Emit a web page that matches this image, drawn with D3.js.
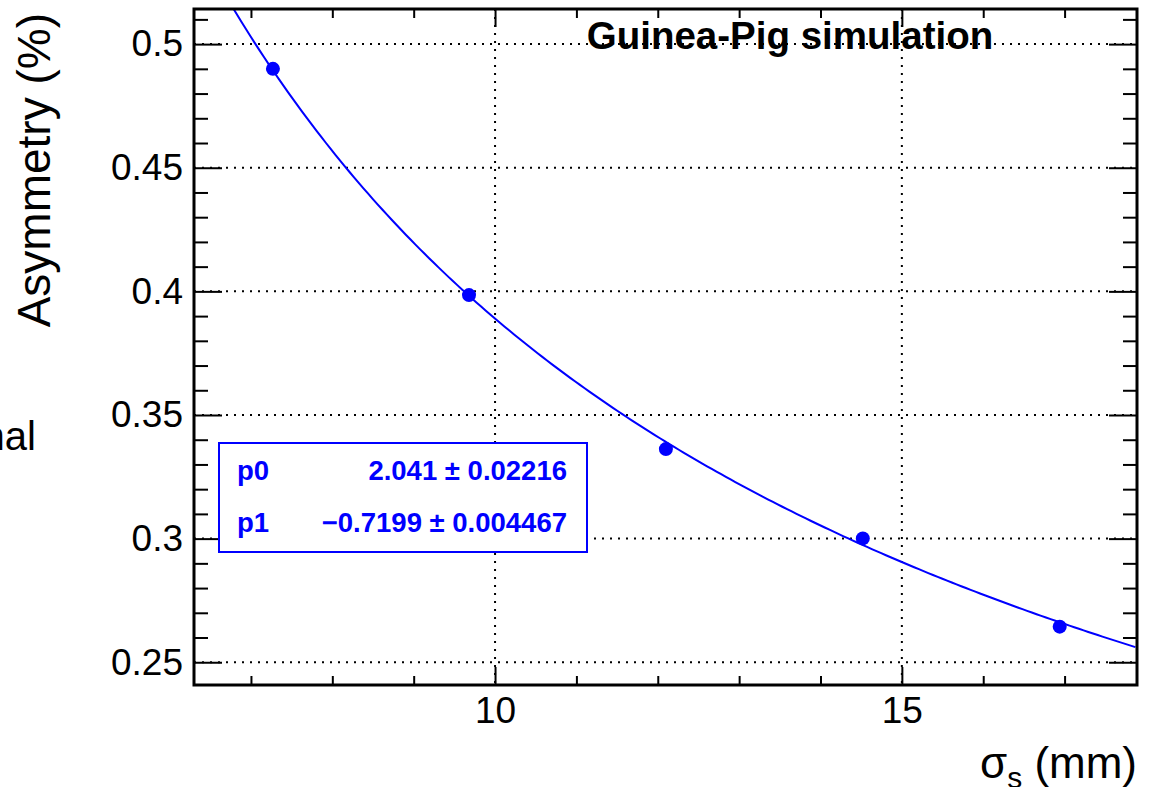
<!DOCTYPE html>
<head>
  <meta charset="utf-8" />
  <script src="https://cdn.jsdelivr.net/npm/d3@7"></script>
  <style>
    body { margin: 0; background: #fff; }
    svg text { font-family: "Liberation Sans", Arial, Helvetica, sans-serif; }
    .axis path.domain { display: none; }
    .axis line { stroke: #000; stroke-width: 2; }
  </style>
</head>
<body>
  <svg class="chart" width="1151" height="787"></svg>
  <script>
    // measured points (sigma_s in mm, asymmetry in %)
    const sigmaVals = [7.27, 9.68, 12.1, 14.52, 16.94];
    const asymVals = [0.49, 0.3985, 0.3362, 0.3001, 0.2644];

    // fit result p0 * x^p1 shown in the stats box
    const p0 = 2.041;
    const p1 = -0.7199;
    const parNames = ["p0", "p1"];
    const parValues = ["2.041", "\u22120.7199"];
    const parErrors = ["0.02216", "0.004467"];

    const xMajor = [10, 15];
    const xMinor = [7, 8, 9, 11, 12, 13, 14, 16, 17];
    const yMajor = [0.25, 0.3, 0.35, 0.4, 0.45, 0.5];
    const yMinor = [0.26, 0.27, 0.28, 0.29, 0.31, 0.32, 0.33, 0.34, 0.36, 0.37, 0.38, 0.39,
                    0.41, 0.42, 0.43, 0.44, 0.46, 0.47, 0.48, 0.49, 0.51];

    const fLeft = 194, fRight = 1137, fTop = 9, fBottom = 685;
    const svg = d3.select(".chart");

    const x = d3.scaleLinear().domain([6.3, 17.89]).range([fLeft, fRight]);
    const y = d3.scaleLinear().domain([0.2408, 0.5142]).range([fBottom, fTop]);
    const blue = "#0000ff";

    svg.append("clipPath").attr("id", "frameClip")
      .append("rect").attr("x", fLeft).attr("y", fTop).attr("width", fRight - fLeft).attr("height", fBottom - fTop);

    // dotted grid
    const grid = svg.append("g").attr("stroke", "#000").attr("stroke-width", 2).attr("stroke-dasharray", "2,6");
    grid.selectAll("line.gx").data(xMajor).enter().append("line")
      .attr("x1", (d) => x(d)).attr("x2", (d) => x(d)).attr("y1", fTop).attr("y2", fBottom);
    grid.selectAll("line.gy").data(yMajor).enter().append("line")
      .attr("y1", (d) => y(d)).attr("y2", (d) => y(d)).attr("x1", fLeft).attr("x2", fRight);

    // ticks on all four sides (ROOT style, inside)
    const font = "37px";
    const gLeft = svg.append("g").attr("class", "axis").attr("transform", `translate(${fLeft},0)`);
    gLeft.call(d3.axisLeft(y).tickValues(yMajor).tickSize(-28).tickPadding(11).tickFormat(d3.format("")));
    gLeft.selectAll("text").attr("font-size", font).attr("fill", "#000");
    svg.append("g").attr("class", "axis").attr("transform", `translate(${fLeft},0)`)
      .call(d3.axisLeft(y).tickValues(yMinor).tickSize(-14).tickFormat(""));
    svg.append("g").attr("class", "axis").attr("transform", `translate(${fRight},0)`)
      .call(d3.axisRight(y).tickValues(yMajor).tickSize(-28).tickFormat(""));
    svg.append("g").attr("class", "axis").attr("transform", `translate(${fRight},0)`)
      .call(d3.axisRight(y).tickValues(yMinor).tickSize(-14).tickFormat(""));

    const gBottom = svg.append("g").attr("class", "axis").attr("transform", `translate(0,${fBottom})`);
    gBottom.call(d3.axisBottom(x).tickValues(xMajor).tickSize(-18).tickPadding(12));
    gBottom.selectAll("text").attr("font-size", font).attr("fill", "#000");
    svg.append("g").attr("class", "axis").attr("transform", `translate(0,${fBottom})`)
      .call(d3.axisBottom(x).tickValues(xMinor).tickSize(-9).tickFormat(""));
    svg.append("g").attr("class", "axis").attr("transform", `translate(0,${fTop})`)
      .call(d3.axisTop(x).tickValues(xMajor).tickSize(-18).tickFormat(""));
    svg.append("g").attr("class", "axis").attr("transform", `translate(0,${fTop})`)
      .call(d3.axisTop(x).tickValues(xMinor).tickSize(-9).tickFormat(""));

    // header text
    svg.append("text").attr("x", 790).attr("y", 49).attr("text-anchor", "middle")
      .attr("font-size", "38.5px").attr("font-weight", "bold").text("Guinea-Pig simulation");

    // fit curve
    const xs = d3.range(0, 201).map((i) => 6.3 + (17.87 - 6.3) * i / 200);
    const line = d3.line().x((d) => x(d)).y((d) => y(p0 * Math.pow(d, p1)));
    svg.append("path").datum(xs).attr("d", line).attr("fill", "none")
      .attr("stroke", blue).attr("stroke-width", 2).attr("clip-path", "url(#frameClip)");

    // stats box
    svg.append("rect").attr("x", 219).attr("y", 443).attr("width", 368).attr("height", 109)
      .attr("fill", "#fff").attr("stroke", blue).attr("stroke-width", 2);
    const rows = svg.append("g").attr("fill", blue).attr("font-size", "27.5px").attr("font-weight", "bold");
    rows.selectAll("text.name").data(parNames).enter().append("text")
      .attr("x", 237).attr("y", (d, i) => 480 + i * 52).text((d) => d);
    rows.selectAll("text.val").data(parValues).enter().append("text")
      .attr("x", 567).attr("y", (d, i) => 480 + i * 52).attr("text-anchor", "end")
      .text((d, i) => `${d} \u00b1 ${parErrors[i]}`);

    // data points
    svg.append("g").selectAll("circle").data(sigmaVals).enter().append("circle")
      .attr("cx", (d) => x(d)).attr("cy", (d, i) => y(asymVals[i])).attr("r", 7).attr("fill", blue);

    // frame
    svg.append("rect").attr("x", fLeft).attr("y", fTop).attr("width", fRight - fLeft).attr("height", fBottom - fTop)
      .attr("fill", "none").attr("stroke", "#000").attr("stroke-width", 3);

    // axis titles
    svg.append("text").attr("transform", "translate(50,13) rotate(-90)").attr("text-anchor", "end")
      .attr("font-size", "46px").text("Asymmetry (%)");
    const xt = svg.append("text").attr("x", fRight).attr("y", 778).attr("text-anchor", "end").attr("font-size", "44px");
    xt.append("tspan").text("\u03c3");
    xt.append("tspan").attr("font-size", "30px").attr("dy", 10).text("s");
    xt.append("tspan").attr("dy", -10).text(" (mm)");

    // clipped label from neighbouring pad
    svg.append("text").attr("x", 36).attr("y", 450).attr("text-anchor", "end").attr("font-size", "40px").text("nal");
  </script>
</body>
